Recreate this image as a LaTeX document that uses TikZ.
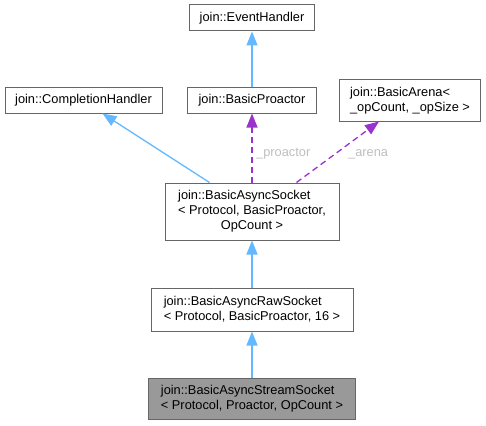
\documentclass[tikz,border=0pt]{standalone}
\usepackage{fontspec}
\setmainfont{Liberation Sans}
\usetikzlibrary{arrows.meta,calc}
\definecolor{edgeblue}{HTML}{63B8FF}
\definecolor{edgepurple}{HTML}{9A32CD}
\definecolor{boxgray}{HTML}{666666}
\definecolor{fillgray}{HTML}{999999}
\definecolor{labelgray}{HTML}{BEBEBE}
\begin{document}
\begin{tikzpicture}[x=1pt,y=-1pt,
  cls/.style={draw=boxgray,line width=1pt,fill=white,inner sep=0pt,font=\fontsize{12.8}{15}\selectfont,align=left},
  inh/.style={draw=edgeblue,line width=1.3pt,-{Triangle[length=14pt,width=11pt]}},
  use/.style={draw=edgepurple,line width=1.3pt,dash pattern=on 6pt off 4pt,-{Triangle[length=14pt,width=11pt]}},
  elabel/.style={text=labelgray,font=\fontsize{12.8}{15}\selectfont,inner sep=0pt}]
\useasboundingbox (0,0) rectangle (486,425);
\node[cls,minimum width=125pt,minimum height=26pt] (eh) at (252,18) {join::EventHandler};
\node[cls,minimum width=157pt,minimum height=25pt] (ch) at (83.5,100.5) {join::CompletionHandler};
\node[cls,minimum width=129pt,minimum height=25pt] (bp) at (252,100.5) {join::BasicProactor};
\node[cls,minimum width=141pt,minimum height=41pt] (ba) at (410,100.5) {join::BasicArena<\\\_opCount, \_opSize >};
\node[cls,minimum width=174pt,minimum height=57pt] (as) at (252,211.5) {\begin{tabular}{@{}l@{}}join::BasicAsyncSocket\\< Protocol, BasicProactor,\\\multicolumn{1}{@{}c@{}}{OpCount >}\end{tabular}};
\node[cls,minimum width=202pt,minimum height=43pt] (ars) at (252,309.5) {join::BasicAsyncRawSocket\\< Protocol, BasicProactor, 16 >};
\node[cls,fill=fillgray,minimum width=207pt,minimum height=41pt] (ss) at (252,398.5) {join::BasicAsyncStreamSocket\\< Protocol, Proactor, OpCount >};
\coordinate (asch) at ($(as.north west)+(45,0)$);
\coordinate (chb) at ($(ch.south west)+(98,0)$);
\coordinate (asba) at ($(as.north west)+(132,0)$);
\coordinate (bab) at ($(ba.south west)+(40,0)$);
\coordinate (asbp) at (as.north -| bp.south);
\draw[inh] (bp.north) -- (eh.south);
\draw[inh] (asch) -- (chb);
\draw[use] (asbp) -- (bp.south);
\draw[use] (asba) -- (bab);
\draw[inh] (ars.north -| as.south) -- (as.south);
\draw[inh] (ss.north -| ars.south) -- (ars.south);
\node[elabel,anchor=west] (lp) at (256,154) {\_proactor};
\node[elabel,anchor=west] (la) at (348,154) {\_arena};
\end{tikzpicture}
\end{document}
